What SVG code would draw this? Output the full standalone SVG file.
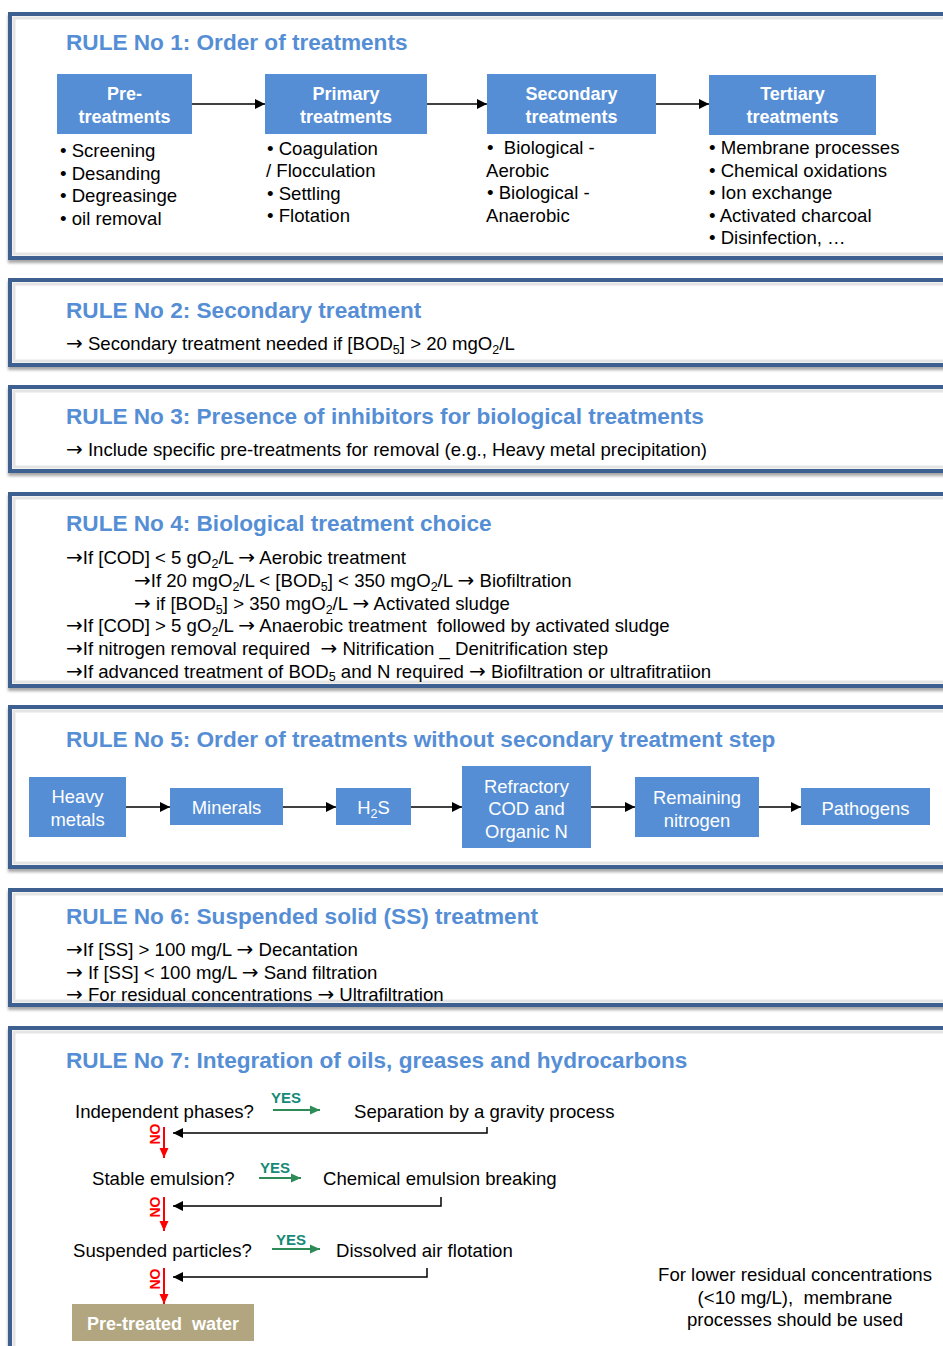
<svg xmlns="http://www.w3.org/2000/svg" width="943" height="1346" viewBox="0 0 943 1346">
<defs>
<style>
.panel{fill:#ffffff;stroke:#3d6090;stroke-width:4;filter:url(#sh)}
.inner{fill:none;stroke:#e4e4e4;stroke-width:3}
.title{font-family:"Liberation Sans",Arial,sans-serif;font-weight:bold;font-size:22.6px;fill:#558ed5}
.body{font-family:"Liberation Sans",Arial,sans-serif;font-size:18.6px;fill:#000}
.ar{font-family:"DejaVu Sans",sans-serif;font-size:20px}
.box{fill:#558ed5}
.bt{font-family:"Liberation Sans",Arial,sans-serif;font-weight:bold;font-size:18px;fill:#fff;text-anchor:middle}
.wt{font-family:"Liberation Sans",Arial,sans-serif;font-size:18.4px;fill:#fff;text-anchor:middle}
.yes{font-family:"Liberation Sans",Arial,sans-serif;font-weight:bold;font-size:15px;fill:#168a78;text-anchor:middle}
.no{font-family:"Liberation Sans",Arial,sans-serif;font-weight:bold;font-size:14px;fill:#ff0000;text-anchor:middle}
.blk{stroke:#000;stroke-width:1.5;fill:none}
.grn{stroke:#2e8b57;stroke-width:2;fill:none}
.red{stroke:#ff0000;stroke-width:2;fill:none}
</style>
<filter id="sh" x="-5%" y="-5%" width="110%" height="115%">
<feDropShadow dx="0" dy="3" stdDeviation="1.5" flood-color="#808080" flood-opacity="0.7"/>
</filter>
<marker id="ab" markerUnits="userSpaceOnUse" markerWidth="10" markerHeight="10" refX="10" refY="5" orient="auto"><path d="M0,0 L10,5 L0,10 z" fill="#000"/></marker>
<marker id="ag" markerUnits="userSpaceOnUse" markerWidth="10" markerHeight="10" refX="10" refY="5" orient="auto"><path d="M0,0.5 L10,5 L0,9.5 z" fill="#2e8b57"/></marker>
<marker id="ar" markerUnits="userSpaceOnUse" markerWidth="10" markerHeight="10" refX="10" refY="5" orient="auto"><path d="M0,0.5 L10,5 L0,9.5 z" fill="#ff0000"/></marker>
</defs>
<rect width="943" height="1346" fill="#ffffff"/>

<g id="panels">
<rect class="panel" x="10" y="14" width="960" height="244"/>
<rect class="inner" x="14" y="18" width="960" height="236"/>
<rect class="panel" x="10" y="280" width="960" height="85"/>
<rect class="inner" x="14" y="284" width="960" height="77"/>
<rect class="panel" x="10" y="387" width="960" height="84"/>
<rect class="inner" x="14" y="391" width="960" height="76"/>
<rect class="panel" x="10" y="494" width="960" height="192"/>
<rect class="inner" x="14" y="498" width="960" height="184"/>
<rect class="panel" x="10" y="707" width="960" height="160"/>
<rect class="inner" x="14" y="711" width="960" height="152"/>
<rect class="panel" x="10" y="890" width="960" height="115"/>
<rect class="inner" x="14" y="894" width="960" height="107"/>
<rect class="panel" x="10" y="1028" width="960" height="400"/>
<rect class="inner" x="14" y="1032" width="960" height="400"/>
</g>

<g id="rule1">
<text class="title" x="66" y="50">RULE No 1: Order of treatments</text>
<g id="pre"><rect class="box" x="57" y="74" width="135" height="60"/>
<text class="bt" x="124.5" y="100">Pre-</text><text class="bt" x="124.5" y="123">treatments</text></g>
<g id="primary"><rect class="box" x="265" y="74" width="162" height="60"/>
<text class="bt" x="346" y="100">Primary</text><text class="bt" x="346" y="123">treatments</text></g>
<g id="secondary"><rect class="box" x="487" y="74" width="169" height="60"/>
<text class="bt" x="571.5" y="100">Secondary</text><text class="bt" x="571.5" y="123">treatments</text></g>
<g id="tertiary"><rect class="box" x="709" y="75" width="167" height="60"/>
<text class="bt" x="792.5" y="100">Tertiary</text><text class="bt" x="792.5" y="123">treatments</text></g>
<g>
<text class="body" x="60" y="157">• Screening</text>
<text class="body" x="60" y="180">• Desanding</text>
<text class="body" x="60" y="202">• Degreasinge</text>
<text class="body" x="60" y="225">• oil removal</text>
<text class="body" x="267" y="155">• Coagulation</text>
<text class="body" x="266" y="177">/ Flocculation</text>
<text class="body" x="267" y="200">• Settling</text>
<text class="body" x="267" y="222">• Flotation</text>
<text class="body" x="487" y="154" xml:space="preserve">•  Biological -</text>
<text class="body" x="486" y="177">Aerobic</text>
<text class="body" x="487" y="199">• Biological -</text>
<text class="body" x="486" y="222">Anaerobic</text>
<text class="body" x="709" y="154">• Membrane processes</text>
<text class="body" x="709" y="177">• Chemical oxidations</text>
<text class="body" x="709" y="199">• Ion exchange</text>
<text class="body" x="709" y="222">• Activated charcoal</text>
<text class="body" x="709" y="244">• Disinfection, …</text>
</g>
</g>

<g id="rule2">
<text class="title" x="66" y="318">RULE No 2: Secondary treatment</text>
<text class="body" x="66" y="350"><tspan class="ar">→</tspan> Secondary treatment needed if [BOD<tspan font-size="12.5" dy="4">5</tspan><tspan dy="-4">] &gt; 20 mgO</tspan><tspan font-size="12.5" dy="4">2</tspan><tspan dy="-4">/L</tspan></text>
</g>

<g id="rule3">
<text class="title" x="66" y="424">RULE No 3: Presence of inhibitors for biological treatments</text>
<text class="body" x="66" y="456"><tspan class="ar">→</tspan> Include specific pre-treatments for removal (e.g., Heavy metal precipitation)</text>
</g>

<g id="rule4">
<text class="title" x="66" y="531">RULE No 4: Biological treatment choice</text>
<text class="body" x="66" y="564"><tspan class="ar">→</tspan>If [COD] &lt; 5 gO<tspan font-size="12.5" dy="4">2</tspan><tspan dy="-4">/L </tspan><tspan class="ar">→</tspan> Aerobic treatment</text>
<text class="body" x="134" y="587"><tspan class="ar">→</tspan>If 20 mgO<tspan font-size="12.5" dy="4">2</tspan><tspan dy="-4">/L &lt; [BOD</tspan><tspan font-size="12.5" dy="4">5</tspan><tspan dy="-4">] &lt; 350 mgO</tspan><tspan font-size="12.5" dy="4">2</tspan><tspan dy="-4">/L </tspan><tspan class="ar">→</tspan> Biofiltration</text>
<text class="body" x="134" y="610"><tspan class="ar">→</tspan> if [BOD<tspan font-size="12.5" dy="4">5</tspan><tspan dy="-4">] &gt; 350 mgO</tspan><tspan font-size="12.5" dy="4">2</tspan><tspan dy="-4">/L </tspan><tspan class="ar">→</tspan> Activated sludge</text>
<text class="body" x="66" y="632" xml:space="preserve"><tspan class="ar">→</tspan>If [COD] &gt; 5 gO<tspan font-size="12.5" dy="4">2</tspan><tspan dy="-4">/L </tspan><tspan class="ar">→</tspan> Anaerobic treatment  followed by activated sludge</text>
<text class="body" x="66" y="655" xml:space="preserve"><tspan class="ar">→</tspan>If nitrogen removal required  <tspan class="ar">→</tspan> Nitrification _ Denitrification step</text>
<text class="body" x="66" y="678"><tspan class="ar">→</tspan>If advanced treatment of BOD<tspan font-size="12.5" dy="3">5</tspan><tspan dy="-3"> and N required </tspan><tspan class="ar">→</tspan> Biofiltration or ultrafitratiion</text>
</g>

<g id="rule5">
<text class="title" x="66" y="747">RULE No 5: Order of treatments without secondary treatment step</text>
<g id="heavy"><rect class="box" x="29" y="777" width="97" height="60"/>
<text class="wt" x="77.5" y="803">Heavy</text><text class="wt" x="77.5" y="826">metals</text></g>
<g id="minerals"><rect class="box" x="170" y="788" width="113" height="37"/>
<text class="wt" x="226.5" y="814">Minerals</text></g>
<g id="h2s"><rect class="box" x="336" y="788" width="75" height="37"/>
<text class="wt" x="373.5" y="814">H<tspan font-size="12.5" dy="4">2</tspan><tspan dy="-4">S</tspan></text></g>
<g id="refractory"><rect class="box" x="462" y="766" width="129" height="82"/>
<text class="wt" x="526.5" y="793">Refractory</text><text class="wt" x="526.5" y="815">COD and</text><text class="wt" x="526.5" y="838">Organic N</text></g>
<g id="remaining"><rect class="box" x="635" y="777" width="124" height="60"/>
<text class="wt" x="697" y="804">Remaining</text><text class="wt" x="697" y="827">nitrogen</text></g>
<g id="pathogens"><rect class="box" x="801" y="788" width="129" height="37"/>
<text class="wt" x="865.5" y="815">Pathogens</text></g>
</g>

<g id="rule6">
<text class="title" x="66" y="924">RULE No 6: Suspended solid (SS) treatment</text>
<text class="body" x="66" y="956"><tspan class="ar">→</tspan>If [SS] &gt; 100 mg/L <tspan class="ar">→</tspan> Decantation</text>
<text class="body" x="66" y="979"><tspan class="ar">→</tspan> If [SS] &lt; 100 mg/L <tspan class="ar">→</tspan> Sand filtration</text>
<text class="body" x="66" y="1001"><tspan class="ar">→</tspan> For residual concentrations <tspan class="ar">→</tspan> Ultrafiltration</text>
</g>

<g id="rule7">
<text class="title" x="66" y="1068">RULE No 7: Integration of oils, greases and hydrocarbons</text>
<text class="body" x="75" y="1118">Independent phases?</text>
<text class="body" x="354" y="1118">Separation by a gravity process</text>
<text class="body" x="92" y="1185">Stable emulsion?</text>
<text class="body" x="323" y="1185">Chemical emulsion breaking</text>
<text class="body" x="73" y="1257">Suspended particles?</text>
<text class="body" x="336" y="1257">Dissolved air flotation</text>
<text class="yes" x="286" y="1103">YES</text>
<text class="yes" x="275" y="1173">YES</text>
<text class="yes" x="291" y="1245">YES</text>
<text class="no" transform="translate(160,1134) rotate(-90)">NO</text>
<text class="no" transform="translate(160,1207) rotate(-90)">NO</text>
<text class="no" transform="translate(160,1279) rotate(-90)">NO</text>
<g id="pretreated"><rect x="72" y="1304" width="182" height="37" fill="#b1a680"/>
<text class="bt" x="163" y="1330" font-size="17" xml:space="preserve">Pre-treated  water</text></g>
<text class="body" x="795" y="1281" text-anchor="middle">For lower residual concentrations</text>
<text class="body" x="795" y="1304" text-anchor="middle" xml:space="preserve">(&lt;10 mg/L),  membrane</text>
<text class="body" x="795" y="1326" text-anchor="middle">processes should be used</text>
</g>

<g id="connectors">
<line class="blk" x1="192" y1="104" x2="265" y2="104" marker-end="url(#ab)"/>
<line class="blk" x1="427" y1="104" x2="487" y2="104" marker-end="url(#ab)"/>
<line class="blk" x1="656" y1="104" x2="709" y2="104" marker-end="url(#ab)"/>
<line class="blk" x1="126" y1="807" x2="170" y2="807" stroke-width="2" marker-end="url(#ab)"/>
<line class="blk" x1="283" y1="807" x2="336" y2="807" stroke-width="2" marker-end="url(#ab)"/>
<line class="blk" x1="411" y1="807" x2="462" y2="807" stroke-width="2" marker-end="url(#ab)"/>
<line class="blk" x1="591" y1="807" x2="635" y2="807" stroke-width="2" marker-end="url(#ab)"/>
<line class="blk" x1="759" y1="807" x2="801" y2="807" stroke-width="2" marker-end="url(#ab)"/>
<line class="grn" x1="273" y1="1110" x2="320" y2="1110" marker-end="url(#ag)"/>
<line class="grn" x1="259" y1="1178" x2="301" y2="1178" marker-end="url(#ag)"/>
<line class="grn" x1="272" y1="1249" x2="320" y2="1249" marker-end="url(#ag)"/>
<path class="blk" d="M487,1127 V1133 H173" marker-end="url(#ab)"/>
<path class="blk" d="M441,1197 V1206 H173" marker-end="url(#ab)"/>
<path class="blk" d="M427,1268 V1277 H173" marker-end="url(#ab)"/>
<line class="red" x1="164" y1="1127" x2="164" y2="1158" marker-end="url(#ar)"/>
<line class="red" x1="164" y1="1197" x2="164" y2="1231" marker-end="url(#ar)"/>
<line class="red" x1="164" y1="1268" x2="164" y2="1304" marker-end="url(#ar)"/>
</g>
</svg>
